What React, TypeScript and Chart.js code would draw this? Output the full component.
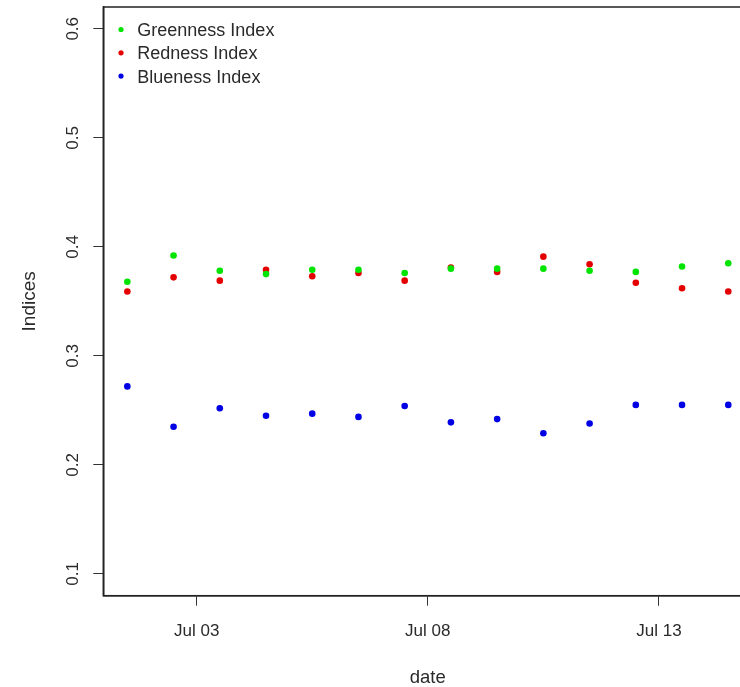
import React, { useEffect, useRef } from 'react';
import { Chart, registerables } from 'chart.js';

Chart.register(...registerables);

// ---- data ----
const dates = [
  '2021-07-01T12:00:00Z', '2021-07-02T12:00:00Z', '2021-07-03T12:00:00Z', '2021-07-04T12:00:00Z',
  '2021-07-05T12:00:00Z', '2021-07-06T12:00:00Z', '2021-07-07T12:00:00Z', '2021-07-08T12:00:00Z',
  '2021-07-09T12:00:00Z', '2021-07-10T12:00:00Z', '2021-07-11T12:00:00Z', '2021-07-12T12:00:00Z',
  '2021-07-13T12:00:00Z', '2021-07-14T12:00:00Z',
];
const greenness = [0.368, 0.392, 0.378, 0.375, 0.379, 0.379, 0.376, 0.380, 0.380, 0.380, 0.378, 0.377, 0.382, 0.385];
const redness = [0.359, 0.372, 0.369, 0.379, 0.373, 0.376, 0.369, 0.381, 0.377, 0.391, 0.384, 0.367, 0.362, 0.359];
const blueness = [0.272, 0.235, 0.252, 0.245, 0.247, 0.244, 0.254, 0.239, 0.242, 0.229, 0.238, 0.255, 0.255, 0.255];
const seriesNames = ['Greenness Index', 'Redness Index', 'Blueness Index'];
const seriesColors = ['#00e400', '#e40000', '#0000e4'];
const xTickDates = ['2021-07-03T00:00:00Z', '2021-07-08T00:00:00Z', '2021-07-13T00:00:00Z'];
const yTicks = [0.1, 0.2, 0.3, 0.4, 0.5, 0.6];
const yLimits = [0.08, 0.62];
const monthNames = ['Jan', 'Feb', 'Mar', 'Apr', 'May', 'Jun', 'Jul', 'Aug', 'Sep', 'Oct', 'Nov', 'Dec'];
const xTitle = 'date';
const yTitle = 'Indices';

const FONT = '"Liberation Sans", Arial, sans-serif';
const TEXT = '#2a2a2a';
const AXIS = '#222222';

const xs = dates.map((d) => Date.parse(d));
const xSpan = Math.max(...xs) - Math.min(...xs);
const xMin = Math.min(...xs) - 0.04 * xSpan;
const xMax = Math.max(...xs) + 0.04 * xSpan;

const fmtDate = (v: number) => {
  const d = new Date(v);
  return `${monthNames[d.getUTCMonth()]} ${String(d.getUTCDate()).padStart(2, '0')}`;
};

const framePlugin = {
  id: 'rFrame',
  afterDraw(chart: any) {
    const { ctx, chartArea } = chart;
    ctx.save();
    ctx.strokeStyle = AXIS;
    ctx.lineWidth = 1.5;
    ctx.strokeRect(chartArea.left, chartArea.top, chartArea.right - chartArea.left, chartArea.bottom - chartArea.top);
    ctx.restore();
  },
};

const legendPlugin = {
  id: 'rLegend',
  afterDraw(chart: any) {
    const { ctx, chartArea } = chart;
    ctx.save();
    ctx.font = `18px ${FONT}`;
    ctx.textBaseline = 'middle';
    ctx.textAlign = 'left';
    chart.data.datasets.forEach((ds: any, i: number) => {
      const cy = chartArea.top + 22.5 + i * 23.3;
      ctx.fillStyle = ds.backgroundColor;
      ctx.beginPath();
      ctx.arc(chartArea.left + 17.7, cy, 2.6, 0, Math.PI * 2);
      ctx.fill();
      ctx.fillStyle = TEXT;
      ctx.fillText(ds.label, chartArea.left + 34, cy + 1.5);
    });
    ctx.restore();
  },
};

export default function App() {
  const ref = useRef<HTMLCanvasElement | null>(null);

  useEffect(() => {
    if (!ref.current) return;
    const series = [greenness, redness, blueness];
    const chart = new Chart(ref.current, {
      type: 'scatter',
      data: {
        datasets: series.map((vals, si) => ({
          label: seriesNames[si],
          data: vals.map((v, i) => ({ x: xs[i], y: v })),
          backgroundColor: seriesColors[si],
          borderColor: seriesColors[si],
          pointRadius: 3.3,
          pointHoverRadius: 3.3,
          pointBorderWidth: 0,
          showLine: false,
        })),
      },
      options: {
        responsive: false,
        animation: false,
        events: [],
        layout: { autoPadding: false, padding: { top: 7, right: 7.7, left: 0, bottom: 0 } },
        plugins: { legend: { display: false }, tooltip: { enabled: false } },
        scales: {
          x: {
            type: 'linear',
            position: 'bottom',
            min: xMin,
            max: xMax,
            afterBuildTicks: (s: any) => {
              s.ticks = xTickDates.map((d) => ({ value: Date.parse(d) }));
            },
            afterFit: (s: any) => {
              s.height = 91.3;
              s.paddingLeft = 0;
              s.paddingRight = 0;
            },
            grid: { drawOnChartArea: false, drawTicks: true, tickLength: 10, color: '#333', lineWidth: 1 },
            border: { display: true, color: AXIS, width: 1.5 },
            ticks: {
              color: TEXT,
              padding: 15,
              maxRotation: 0,
              minRotation: 0,
              autoSkip: false,
              font: { family: FONT, size: 17 },
              callback: (v: any) => fmtDate(Number(v)),
            },
            title: {
              display: true,
              text: xTitle,
              color: TEXT,
              font: { family: FONT, size: 18.5, lineHeight: 1 },
              padding: { top: 0, bottom: 0 },
            },
          },
          y: {
            type: 'linear',
            min: yLimits[0],
            max: yLimits[1],
            afterBuildTicks: (s: any) => {
              s.ticks = yTicks.map((v) => ({ value: v }));
            },
            afterFit: (s: any) => {
              s.width = 103.3;
              s.paddingTop = 0;
              s.paddingBottom = 0;
            },
            grid: { drawOnChartArea: false, drawTicks: true, tickLength: 10, color: '#333', lineWidth: 1 },
            border: { display: true, color: AXIS, width: 1.5 },
            ticks: {
              color: TEXT,
              padding: 8.5,
              minRotation: 90,
              maxRotation: 90,
              crossAlign: 'center',
              autoSkip: false,
              font: { family: FONT, size: 17 },
              callback: (v: any) => Number(v).toFixed(1),
            },
            title: {
              display: true,
              text: yTitle,
              color: TEXT,
              font: { family: FONT, size: 19, lineHeight: 1.2 },
              padding: { top: 18.5, bottom: 0 },
            },
          },
        },
      },
      plugins: [framePlugin, legendPlugin],
    } as any);
    return () => chart.destroy();
  }, []);

  return (
    <div
      style={{
        position: 'fixed',
        left: 0,
        top: 0,
        width: 740,
        height: 687,
        overflow: 'hidden',
        background: '#fff',
      }}
    >
      <canvas ref={ref} width={760} height={687} style={{ display: 'block', width: 760, height: 687 }} />
    </div>
  );
}
